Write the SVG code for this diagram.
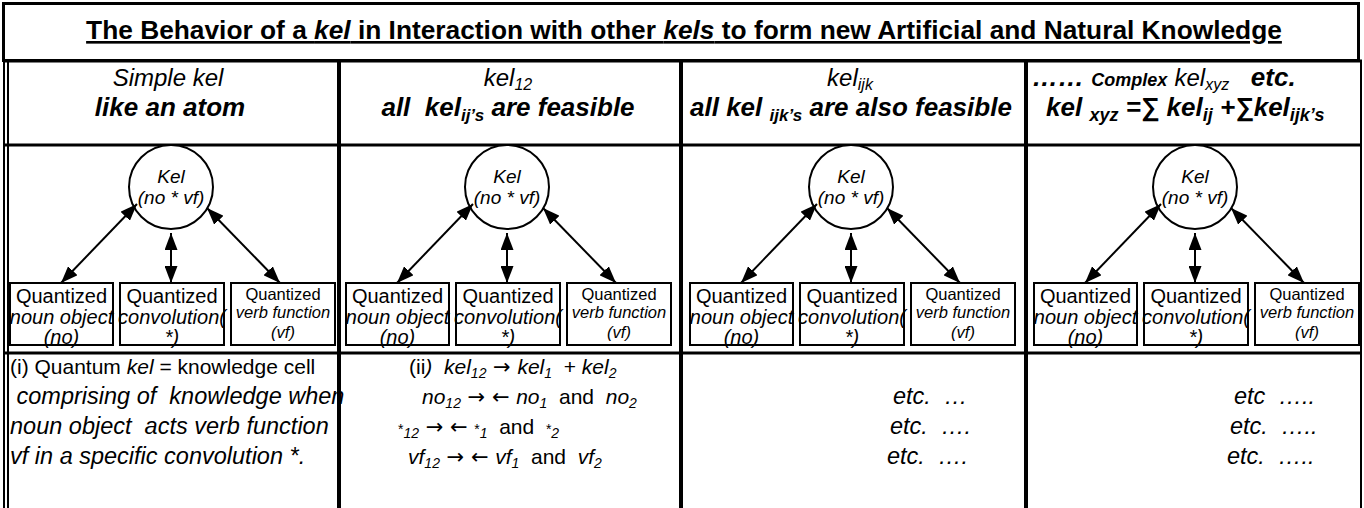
<svg xmlns="http://www.w3.org/2000/svg" width="1364" height="508" viewBox="0 0 1364 508">
<style>
text{font-family:"Liberation Sans",Arial,sans-serif;fill:#000}
.title{font-size:26.3px;font-weight:bold}
.h1{font-size:24px;font-style:italic}
.h2{font-size:26px;font-style:italic;font-weight:bold}
.nk{font-size:19px;font-style:italic}
.bx{font-size:20px}
.bs{font-size:16.5px}
.it{font-style:italic}
.b1{font-size:21px}
.bi{font-size:23.5px;font-style:italic}
.b2{font-size:21px}
.ar{font-family:"DejaVu Sans",sans-serif;font-style:normal}
.grid{stroke:#000;fill:none}
.node{fill:#fff;stroke:#000;stroke-width:2}
.arr{stroke:#000;stroke-width:2;marker-start:url(#ah);marker-end:url(#ah)}
</style>
<defs>
<marker id="ah" markerUnits="userSpaceOnUse" markerWidth="17" markerHeight="13" refX="17" refY="6.5" orient="auto-start-reverse">
<path d="M0,0 L17,6.5 L0,13 z" fill="#000"/>
</marker>
<g id="unit">
<circle class="node" cx="171" cy="187" r="42"/>
<text class="nk" x="171" y="183" text-anchor="middle">Kel</text>
<text class="nk" x="171" y="204" text-anchor="middle">(no * vf)</text>
<rect class="node" x="10" y="283" width="103" height="62"/>
<rect class="node" x="120" y="283" width="104" height="62"/>
<rect class="node" x="231" y="283" width="104" height="62"/>
<text class="bx" x="61.5" y="303" text-anchor="middle">Quantized</text>
<text class="bx it" x="61.5" y="324" text-anchor="middle">noun object</text>
<text class="bx it" x="61.5" y="344" text-anchor="middle">(no)</text>
<text class="bx" x="172" y="303" text-anchor="middle">Quantized</text>
<text class="bx it" x="172" y="324" text-anchor="middle">convolution(</text>
<text class="bx it" x="172" y="344" text-anchor="middle">*)</text>
<text class="bs" x="283" y="300" text-anchor="middle">Quantized</text>
<text class="bs it" x="283" y="318" text-anchor="middle">verb function</text>
<text class="bs it" x="283" y="338" text-anchor="middle">(vf)</text>
<line class="arr" x1="61" y1="283" x2="137" y2="204"/>
<line class="arr" x1="171" y1="283" x2="171" y2="233"/>
<line class="arr" x1="280" y1="283" x2="207" y2="208"/>
</g>
</defs>

<g id="frame">
<rect class="grid" x="3.5" y="3.5" width="1355" height="57" stroke-width="3" stroke="#333"/>
<line class="grid" x1="3" y1="61" x2="1362" y2="61" stroke-width="3" stroke="#333"/>
<line class="grid" x1="4" y1="61" x2="4" y2="508" stroke-width="2"/>
<line class="grid" x1="8" y1="61" x2="8" y2="508" stroke-width="2"/>
<line class="grid" x1="1361" y1="61" x2="1361" y2="508" stroke-width="2"/>
<line class="grid" x1="4" y1="145" x2="1361" y2="145" stroke-width="3" stroke="#333"/>
<line class="grid" x1="4" y1="353" x2="1361" y2="353" stroke-width="3" stroke="#333"/>
<line class="grid" x1="339" y1="61" x2="339" y2="508" stroke-width="4"/>
<line class="grid" x1="681" y1="61" x2="681" y2="508" stroke-width="4"/>
<line class="grid" x1="1026" y1="61" x2="1026" y2="508" stroke-width="4"/>
</g>

<g id="title">
<text class="title" x="684" y="39" text-anchor="middle" text-decoration="underline">The Behavior of a <tspan font-style="italic">kel</tspan> in Interaction with other <tspan font-style="italic">kels</tspan> to form new Artificial and Natural Knowledge</text>
</g>

<g id="header-1">
<text class="h1" x="168" y="86" text-anchor="middle">Simple kel</text>
<text class="h2" x="170" y="116" text-anchor="middle">like an atom</text>
</g>
<g id="header-2">
<text class="h1" x="508" y="86" text-anchor="middle">kel<tspan font-size="16" dy="4">12</tspan></text>
<text class="h2" x="508" y="116" text-anchor="middle" xml:space="preserve">all  kel<tspan font-size="17" dy="5">ij’s</tspan><tspan dy="-5"> are feasible</tspan></text>
</g>
<g id="header-3">
<text class="h1" x="850" y="86" text-anchor="middle">kel<tspan font-size="16" dy="4">ijk</tspan></text>
<text class="h2" x="690" y="116" xml:space="preserve">all kel <tspan font-size="17" dy="5">ijk’s</tspan><tspan dy="-5"> are also feasible</tspan></text>
</g>
<g id="header-4">
<text class="h2" x="1032" y="86" xml:space="preserve">…… <tspan font-size="18">Complex</tspan> <tspan font-weight="normal" font-size="24">kel</tspan><tspan font-weight="normal" font-size="16" dy="4">xyz</tspan><tspan dy="-4">   etc.</tspan></text>
<text class="h2" x="1046" y="116" xml:space="preserve">kel <tspan font-size="18" dy="5">xyz</tspan><tspan dy="-5"> =∑ kel</tspan><tspan font-size="18" dy="5">ij</tspan><tspan dy="-5"> +∑kel</tspan><tspan font-size="18" dy="5">ijk’s</tspan></text>
</g>

<g id="col-1"><use href="#unit"/></g>
<g id="col-2"><use href="#unit" x="336"/></g>
<g id="col-3"><use href="#unit" x="680"/></g>
<g id="col-4"><use href="#unit" x="1024"/></g>

<g id="text-1">
<text class="b1" x="10" y="374">(i) Quantum <tspan font-style="italic">kel</tspan> = knowledge cell</text>
<text class="bi" x="10" y="404" xml:space="preserve"> comprising of  knowledge when</text>
<text class="bi" x="10" y="434" xml:space="preserve">noun object  acts verb function</text>
<text class="bi" x="10" y="464">vf in a specific convolution *.</text>
</g>
<g id="text-2">
<text class="b2" x="409" y="374" xml:space="preserve">(ii<tspan font-style="italic">)  kel</tspan><tspan font-style="italic" font-size="14" dy="4">12</tspan><tspan dy="-4" class="ar"> → </tspan><tspan font-style="italic">kel</tspan><tspan font-style="italic" font-size="14" dy="4">1</tspan><tspan dy="-4">  + </tspan><tspan font-style="italic">kel</tspan><tspan font-style="italic" font-size="14" dy="4">2</tspan></text>
<text class="b2" x="422" y="404" xml:space="preserve"><tspan font-style="italic">no</tspan><tspan font-style="italic" font-size="14" dy="4">12</tspan><tspan dy="-4" class="ar"> →</tspan><tspan class="ar"> ← </tspan><tspan font-style="italic">no</tspan><tspan font-style="italic" font-size="14" dy="4">1</tspan><tspan dy="-4">  and  </tspan><tspan font-style="italic">no</tspan><tspan font-style="italic" font-size="14" dy="4">2</tspan></text>
<text class="b2" x="398" y="434" xml:space="preserve"><tspan font-size="14">*</tspan><tspan font-style="italic" font-size="14" dy="4">12</tspan><tspan dy="-4" class="ar"> →</tspan><tspan class="ar"> ← </tspan><tspan font-size="14">*</tspan><tspan font-style="italic" font-size="14" dy="4">1</tspan><tspan dy="-4">  and  </tspan><tspan font-size="14">*</tspan><tspan font-style="italic" font-size="14" dy="4">2</tspan></text>
<text class="b2" x="408" y="464" xml:space="preserve"><tspan font-style="italic">vf</tspan><tspan font-style="italic" font-size="14" dy="4">12</tspan><tspan dy="-4" class="ar"> →</tspan><tspan class="ar"> ← </tspan><tspan font-style="italic">vf</tspan><tspan font-style="italic" font-size="14" dy="4">1</tspan><tspan dy="-4">  and  </tspan><tspan font-style="italic">vf</tspan><tspan font-style="italic" font-size="14" dy="4">2</tspan></text>
</g>
<g id="text-3">
<text class="bi" x="893" y="404" xml:space="preserve">etc.  …</text>
<text class="bi" x="890" y="434" xml:space="preserve">etc.  ….</text>
<text class="bi" x="887" y="464" xml:space="preserve">etc.  ….</text>
</g>
<g id="text-4">
<text class="bi" x="1234" y="404" xml:space="preserve">etc  …..</text>
<text class="bi" x="1230" y="434" xml:space="preserve">etc.  …..</text>
<text class="bi" x="1227" y="464" xml:space="preserve">etc.  …..</text>
</g>
</svg>
